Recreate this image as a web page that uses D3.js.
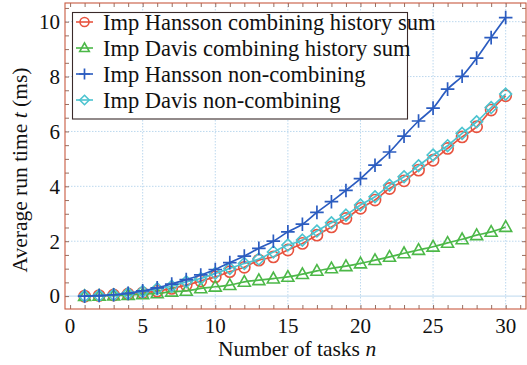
<!DOCTYPE html>
<html>
<head>
<meta charset="utf-8">
<script src="https://cdn.jsdelivr.net/npm/d3@7"></script>
<style>
  html, body { margin: 0; padding: 0; background: #fff; }
  svg { display: block; }
</style>
</head>
<body>
<svg id="chart" width="527" height="365"></svg>
<script>
// Number of tasks n = 1..30
const tasks = d3.range(1, 31);

// Average run time (ms) per algorithm
const hanssonCombining = [0.0, 0.02, 0.04, 0.08, 0.12, 0.18, 0.28, 0.40, 0.55, 0.70,
  0.89, 1.05, 1.31, 1.43, 1.68, 1.92, 2.22, 2.52, 2.83, 3.20,
  3.50, 3.92, 4.20, 4.59, 4.95, 5.38, 5.80, 6.17, 6.78, 7.30];
const davisCombining = [0.0, 0.01, 0.02, 0.04, 0.07, 0.10, 0.16, 0.19, 0.28, 0.34,
  0.40, 0.52, 0.58, 0.64, 0.70, 0.80, 0.92, 1.01, 1.09, 1.19,
  1.31, 1.43, 1.56, 1.68, 1.80, 1.94, 2.07, 2.22, 2.34, 2.52];
const hanssonNonCombining = [0.0, 0.02, 0.05, 0.10, 0.19, 0.30, 0.44, 0.60, 0.77, 0.97,
  1.22, 1.46, 1.74, 2.00, 2.34, 2.62, 3.05, 3.44, 3.85, 4.28,
  4.77, 5.25, 5.83, 6.38, 6.85, 7.54, 8.01, 8.67, 9.42, 10.15];
const davisNonCombining = [0.0, 0.02, 0.05, 0.10, 0.17, 0.27, 0.36, 0.52, 0.64, 0.83,
  1.01, 1.19, 1.35, 1.61, 1.86, 2.04, 2.37, 2.67, 2.95, 3.32,
  3.62, 4.04, 4.35, 4.75, 5.14, 5.48, 5.93, 6.35, 6.87, 7.36];

const seriesNames = [
  "Imp Hansson combining history sum",
  "Imp Davis combining history sum",
  "Imp Hansson non-combining",
  "Imp Davis non-combining"
];
const xTicks = [0, 5, 10, 15, 20, 25, 30];
const yTicks = [0, 2, 4, 6, 8, 10];

const series = [
  { name: seriesNames[0], values: hanssonCombining, color: "#e8533f", marker: "circle" },
  { name: seriesNames[1], values: davisCombining, color: "#4cb848", marker: "triangle" },
  { name: seriesNames[2], values: hanssonNonCombining, color: "#2b5cc0", marker: "plus" },
  { name: seriesNames[3], values: davisNonCombining, color: "#4cc4d0", marker: "diamond" }
];
// paint order: blue crosses end up on top
const drawOrder = [0, 1, 3, 2];

const FONT = "'Liberation Serif', 'Times New Roman', serif";

const svg = d3.select("#chart");
const frame = { left: 65, right: 526, top: 3, bottom: 309 };

const x = d3.scaleLinear().domain([-0.35, 31.4]).range([frame.left, frame.right]);
const y = d3.scaleLinear().domain([-0.47, 10.68]).range([frame.bottom, frame.top]);

// grid
const grid = svg.append("g");
grid.selectAll("line.gx").data(xTicks.filter(d => d > 0)).join("line")
  .attr("x1", d => x(d)).attr("x2", d => x(d))
  .attr("y1", frame.top).attr("y2", frame.bottom)
  .attr("stroke", "#bcd8ee").attr("stroke-width", 1).attr("stroke-dasharray", "1.5,1.5");
grid.selectAll("line.gy").data(yTicks).join("line")
  .attr("x1", frame.left).attr("x2", frame.right)
  .attr("y1", d => y(d)).attr("y2", d => y(d))
  .attr("stroke", "#bcd8ee").attr("stroke-width", 1)
  .attr("stroke-dasharray", d => d === 0 ? null : "1.5,1.5");

// inward ticks on all four sides
const tickColor = "#7a4a3a";
const xAxisB = d3.axisBottom(x).tickValues(d3.range(0, 32)).tickSize(-4).tickFormat("");
const xAxisT = d3.axisTop(x).tickValues(d3.range(0, 32)).tickSize(-4).tickFormat("");
const yAxisL = d3.axisLeft(y).tickValues(d3.range(0, 10.6, 0.5)).tickSize(-4).tickFormat("");
const yAxisR = d3.axisRight(y).tickValues(d3.range(0, 10.6, 0.5)).tickSize(-4).tickFormat("");
[
  [xAxisB, `translate(0,${frame.bottom})`],
  [xAxisT, `translate(0,${frame.top})`],
  [yAxisL, `translate(${frame.left},0)`],
  [yAxisR, `translate(${frame.right},0)`]
].forEach(([ax, tr]) => {
  const g = svg.append("g").attr("transform", tr).call(ax);
  g.select(".domain").remove();
  g.selectAll("line").attr("stroke", tickColor).attr("stroke-width", 0.8);
});

// tick labels
svg.append("g").selectAll("text").data(xTicks).join("text")
  .attr("x", d => x(d)).attr("y", 333)
  .attr("text-anchor", "middle").attr("font-family", FONT).attr("font-size", 21).attr("fill", "#111")
  .text(d => d);
svg.append("g").selectAll("text").data(yTicks).join("text")
  .attr("x", 60).attr("y", d => y(d)).attr("dy", "0.35em")
  .attr("text-anchor", "end").attr("font-family", FONT).attr("font-size", 21).attr("fill", "#111")
  .text(d => d);

// frame
svg.append("rect")
  .attr("x", frame.left).attr("y", frame.top)
  .attr("width", frame.right - frame.left).attr("height", frame.bottom - frame.top)
  .attr("fill", "none").attr("stroke", "#c85a40").attr("stroke-width", 1.1);

// marker shapes
function drawMarker(g, type, color, s = 1) {
  if (type === "circle") {
    g.append("circle").attr("r", 5.6 * s).attr("fill", "none").attr("stroke", color).attr("stroke-width", 1.6);
  } else if (type === "triangle") {
    g.append("path").attr("d", `M0,${-6.3 * s}L${6 * s},${4.4 * s}L${-6 * s},${4.4 * s}Z`)
      .attr("fill", "none").attr("stroke", color).attr("stroke-width", 1.6);
  } else if (type === "plus") {
    g.append("path").attr("d", `M${-6.8 * s},0H${6.8 * s}M0,${-6.8 * s}V${6.8 * s}`)
      .attr("fill", "none").attr("stroke", color).attr("stroke-width", 1.7);
  } else if (type === "diamond") {
    g.append("path").attr("d", `M0,${-5.9 * s}L${5.9 * s},0L0,${5.9 * s}L${-5.9 * s},0Z`)
      .attr("fill", "none").attr("stroke", color).attr("stroke-width", 1.6);
  }
}

const line = d3.line().x((d, i) => x(tasks[i])).y(d => y(d)).curve(d3.curveMonotoneX);

const plot = svg.append("g");
drawOrder.forEach(k => {
  const s = series[k];
  const g = plot.append("g");
  g.append("path").datum(s.values).attr("d", line)
    .attr("fill", "none").attr("stroke", s.color).attr("stroke-width", 1.7);
  s.values.forEach((v, i) => {
    const m = g.append("g").attr("transform", `translate(${x(tasks[i])},${y(v)})`);
    drawMarker(m, s.marker, s.color);
  });
});

// legend
const legend = svg.append("g");
legend.append("rect")
  .attr("x", 72.5).attr("y", 12.5).attr("width", 335).attr("height", 106.5)
  .attr("fill", "#fff").attr("stroke", "#3a2a2a").attr("stroke-width", 1.1);
series.forEach((s, i) => {
  const cy = 22 + i * 26;
  const row = legend.append("g");
  row.append("line").attr("x1", 76).attr("x2", 93).attr("y1", cy).attr("y2", cy)
    .attr("stroke", s.color).attr("stroke-width", 1.6);
  drawMarker(row.append("g").attr("transform", `translate(84.5,${cy})`), s.marker, s.color, 0.8);
  row.append("text").attr("x", 103).attr("y", cy).attr("dy", "0.36em")
    .attr("font-family", FONT).attr("font-size", 22.5).attr("fill", "#111").text(s.name);
});

// axis titles
const xt = svg.append("text").attr("x", 297).attr("y", 356)
  .attr("text-anchor", "middle").attr("font-family", FONT).attr("font-size", 21.5).attr("fill", "#111");
xt.append("tspan").text("Number of tasks ");
xt.append("tspan").attr("font-style", "italic").text("n");

const yt = svg.append("text")
  .attr("transform", "translate(27,170) rotate(-90)")
  .attr("text-anchor", "middle").attr("font-family", FONT).attr("font-size", 21.5).attr("fill", "#111");
yt.append("tspan").text("Average run time ");
yt.append("tspan").attr("font-style", "italic").text("t");
yt.append("tspan").text(" (ms)");
</script>
</body>
</html>
